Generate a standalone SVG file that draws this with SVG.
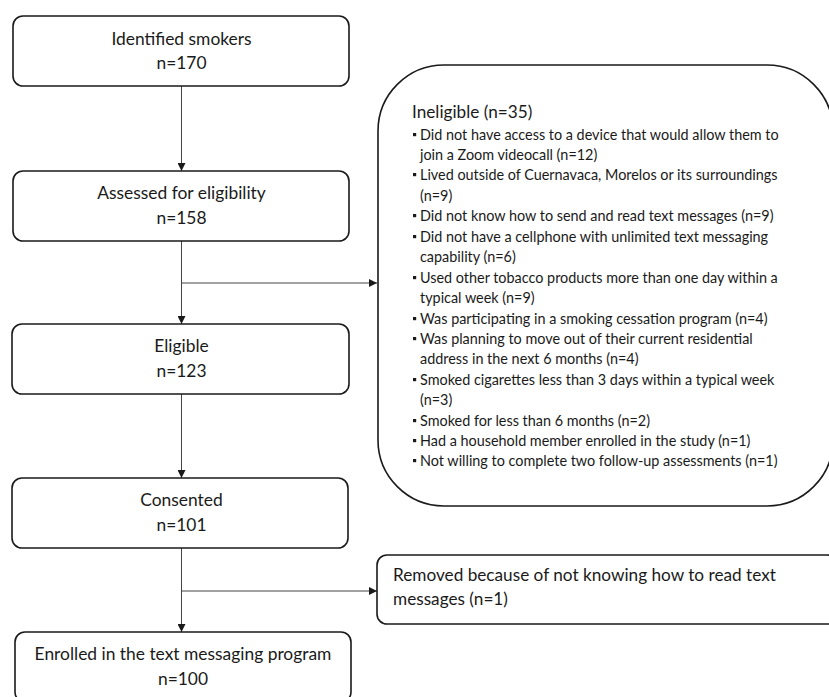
<svg xmlns="http://www.w3.org/2000/svg" width="829" height="697" viewBox="0 0 829 697">
<defs>
<style>
.box{fill:#fff;stroke:#1a1a1a;stroke-width:1.6}
.t{font-family:Lato,"Liberation Sans",sans-serif;fill:#1a1a1a}
.m{font-size:17.4px;text-anchor:middle}
.h{font-size:17.2px}
.b{font-size:14.4px}
.c{stroke:#444;stroke-width:1;fill:none}
.sq{fill:#1a1a1a}
</style>
<marker id="ar" viewBox="0 0 10 10" refX="10" refY="5" markerWidth="8" markerHeight="8" markerUnits="userSpaceOnUse" orient="auto">
<path d="M0,0 L10,5 L0,10 z" fill="#1a1a1a"/>
</marker>
</defs>
<rect width="829" height="697" fill="#fff"/>

<g id="connectors">
<line class="c" x1="181.5" y1="86" x2="181.5" y2="171" marker-end="url(#ar)"/>
<line class="c" x1="181.5" y1="241" x2="181.5" y2="324" marker-end="url(#ar)"/>
<line class="c" x1="181.5" y1="283" x2="377" y2="283" marker-end="url(#ar)"/>
<line class="c" x1="181.5" y1="394" x2="181.5" y2="478" marker-end="url(#ar)"/>
<line class="c" x1="181.5" y1="548" x2="181.5" y2="632" marker-end="url(#ar)"/>
<line class="c" x1="181.5" y1="591" x2="377" y2="591" marker-end="url(#ar)"/>
</g>

<g id="identified">
<rect class="box" x="13" y="16" width="336" height="70" rx="10"/>
<text class="t m" x="181.5" y="45">Identified smokers</text>
<text class="t m" x="181.5" y="69">n=170</text>
</g>

<g id="assessed">
<rect class="box" x="13" y="171" width="336" height="70" rx="10"/>
<text class="t m" x="181.5" y="199">Assessed for eligibility</text>
<text class="t m" x="181.5" y="224">n=158</text>
</g>

<g id="eligible">
<rect class="box" x="12" y="324" width="337" height="70" rx="10"/>
<text class="t m" x="181.5" y="352">Eligible</text>
<text class="t m" x="181.5" y="377">n=123</text>
</g>

<g id="consented">
<rect class="box" x="12" y="478" width="336" height="70" rx="10"/>
<text class="t m" x="181.5" y="506">Consented</text>
<text class="t m" x="181.5" y="531">n=101</text>
</g>

<g id="enrolled">
<rect class="box" x="15" y="632" width="336" height="70" rx="10"/>
<text class="t m" x="183" y="660">Enrolled in the text messaging program</text>
<text class="t m" x="183" y="685">n=100</text>
</g>

<g id="ineligible">
<rect class="box" x="378" y="65" width="455" height="441" rx="66"/>
<text class="t h" x="412" y="118">Ineligible (n=35)</text>
<g class="sq">
<rect x="413" y="133" width="3.2" height="3.2"/>
<rect x="413" y="173" width="3.2" height="3.2"/>
<rect x="413" y="214" width="3.2" height="3.2"/>
<rect x="413" y="235" width="3.2" height="3.2"/>
<rect x="413" y="276" width="3.2" height="3.2"/>
<rect x="413" y="317" width="3.2" height="3.2"/>
<rect x="413" y="337" width="3.2" height="3.2"/>
<rect x="413" y="378" width="3.2" height="3.2"/>
<rect x="413" y="419" width="3.2" height="3.2"/>
<rect x="413" y="439" width="3.2" height="3.2"/>
<rect x="413" y="459" width="3.2" height="3.2"/>
</g>
<text class="t b" x="420" y="140">Did not have access to a device that would allow them to</text>
<text class="t b" x="420" y="160">join a Zoom videocall (n=12)</text>
<text class="t b" x="420" y="180">Lived outside of Cuernavaca, Morelos or its surroundings</text>
<text class="t b" x="420" y="201">(n=9)</text>
<text class="t b" x="420" y="221">Did not know how to send and read text messages (n=9)</text>
<text class="t b" x="420" y="242">Did not have a cellphone with unlimited text messaging</text>
<text class="t b" x="420" y="262">capability (n=6)</text>
<text class="t b" x="420" y="283">Used other tobacco products more than one day within a</text>
<text class="t b" x="420" y="303">typical week (n=9)</text>
<text class="t b" x="420" y="324">Was participating in a smoking cessation program (n=4)</text>
<text class="t b" x="420" y="344">Was planning to move out of their current residential</text>
<text class="t b" x="420" y="364">address in the next 6 months (n=4)</text>
<text class="t b" x="420" y="385">Smoked cigarettes less than 3 days within a typical week</text>
<text class="t b" x="420" y="405">(n=3)</text>
<text class="t b" x="420" y="426">Smoked for less than 6 months (n=2)</text>
<text class="t b" x="420" y="446">Had a household member enrolled in the study (n=1)</text>
<text class="t b" x="420" y="466">Not willing to complete two follow-up assessments (n=1)</text>
</g>

<g id="removed">
<rect class="box" x="377" y="555" width="460" height="69" rx="10"/>
<text class="t h" x="393" y="581">Removed because of not knowing how to read text</text>
<text class="t h" x="393" y="605">messages (n=1)</text>
</g>
</svg>
